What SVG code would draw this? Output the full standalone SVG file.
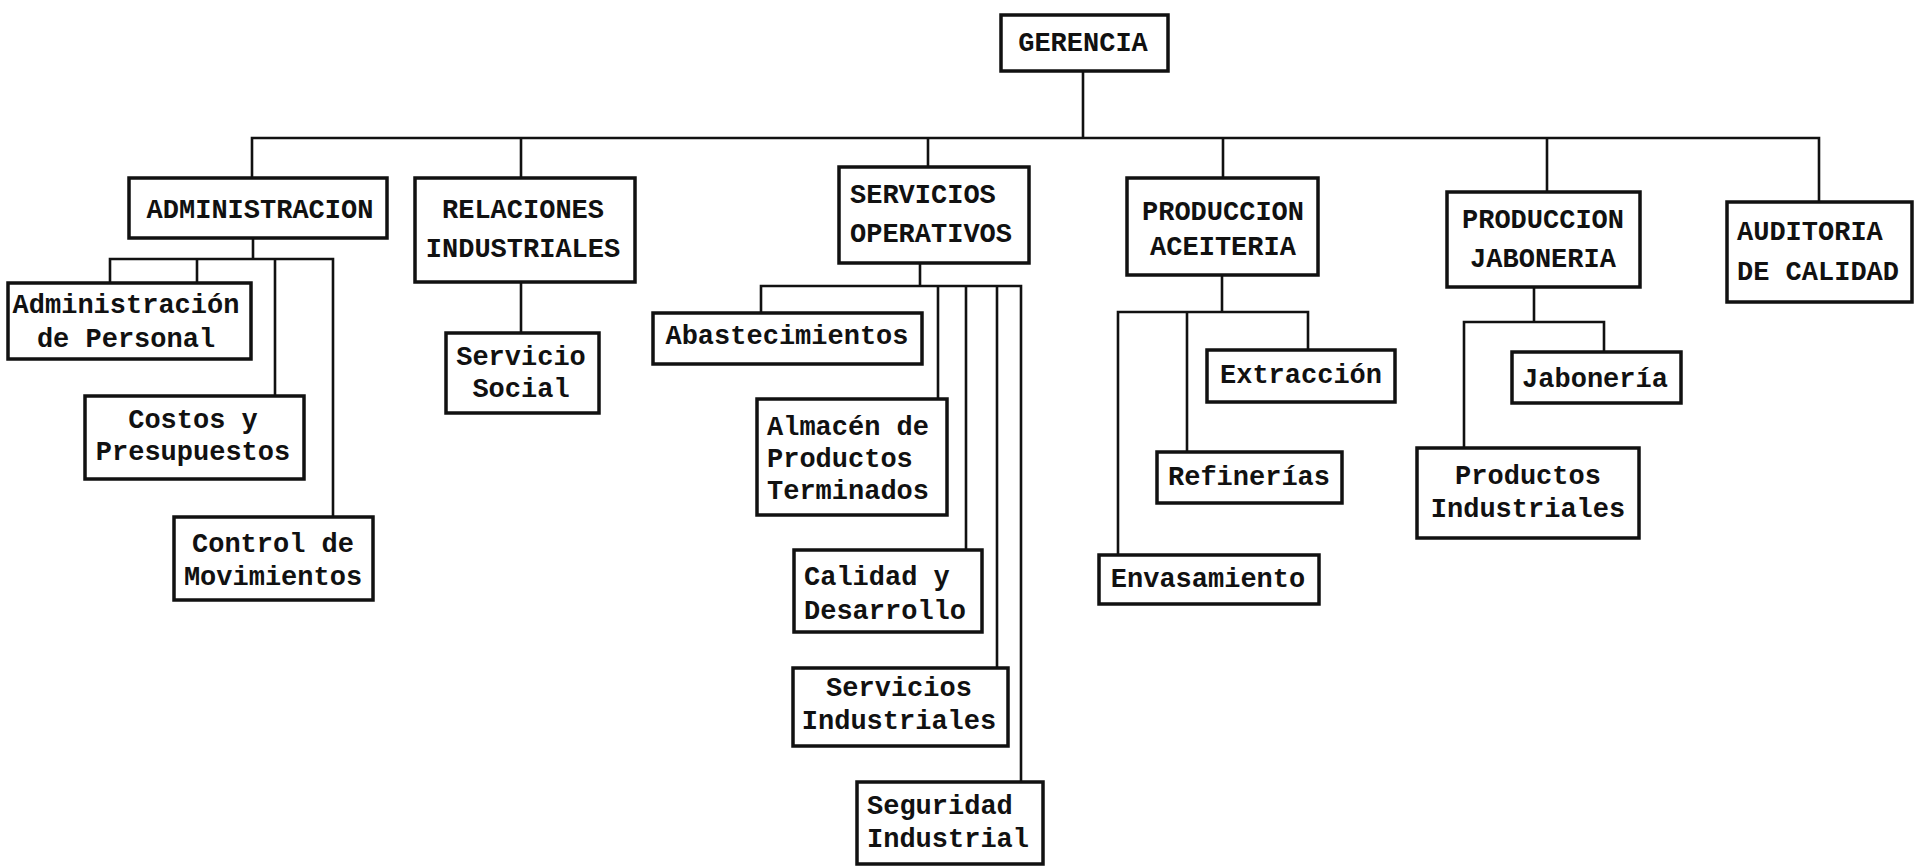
<svg xmlns="http://www.w3.org/2000/svg" width="1914" height="867" viewBox="0 0 1914 867">
<style>
.box{fill:#fff;stroke:#111;stroke-width:3.5}
.ln{fill:none;stroke:#111;stroke-width:2.6;stroke-linecap:square}
text{font-family:"Liberation Mono","DejaVu Sans Mono",monospace;font-weight:bold;font-size:27px;fill:#111}
.c{text-anchor:middle}
.s{text-anchor:start}
</style>
<rect width="1914" height="867" fill="#fff"/>
<g id="connectors">
<path class="ln" d="M1083 71V138M252 138H1819M252 138V178M521 138V178M928 138V167M1223 138V178M1547 138V192M1819 138V202"/>
<path class="ln" d="M253 238V259M110 259H333M110 259V283M197 259V283M275 259V396M333 259V517"/>
<path class="ln" d="M521 282V333"/>
<path class="ln" d="M920 263V286M761 286H1021M761 286V313M938 286V399M966 286V550M997 286V668M1021 286V782"/>
<path class="ln" d="M1222 275V312M1118 312H1308M1118 312V555M1187 312V452M1308 312V350"/>
<path class="ln" d="M1534 287V322M1464 322H1604M1464 322V448M1604 322V352"/>
</g>
<g id="gerencia"><rect class="box" x="1001" y="15" width="167" height="56"/><text class="c" x="1083" y="51">GERENCIA</text></g>
<g id="administracion"><rect class="box" x="129" y="178" width="258" height="60"/><text class="c" x="260" y="218">ADMINISTRACION</text></g>
<g id="relaciones"><rect class="box" x="415" y="178" width="220" height="104"/><text class="c" x="523" y="218">RELACIONES</text><text class="c" x="523" y="257">INDUSTRIALES</text></g>
<g id="servicios"><rect class="box" x="839" y="167" width="190" height="96"/><text class="s" x="850" y="203">SERVICIOS</text><text class="s" x="850" y="242">OPERATIVOS</text></g>
<g id="aceiteria"><rect class="box" x="1127" y="178" width="191" height="97"/><text class="c" x="1223" y="220">PRODUCCION</text><text class="c" x="1223" y="255">ACEITERIA</text></g>
<g id="jaboneria"><rect class="box" x="1447" y="192" width="193" height="95"/><text class="c" x="1543" y="228">PRODUCCION</text><text class="c" x="1543" y="267">JABONERIA</text></g>
<g id="auditoria"><rect class="box" x="1727" y="202" width="185" height="100"/><text class="s" x="1737" y="240">AUDITORIA</text><text class="s" x="1737" y="280">DE CALIDAD</text></g>
<g id="adm-personal"><rect class="box" x="8" y="283" width="243" height="76"/><text class="c" x="126" y="313">Administración</text><text class="c" x="126" y="347">de Personal</text></g>
<g id="costos"><rect class="box" x="85" y="396" width="219" height="83"/><text class="c" x="193" y="428">Costos y</text><text class="c" x="193" y="460">Presupuestos</text></g>
<g id="control"><rect class="box" x="174" y="517" width="199" height="83"/><text class="c" x="273" y="552">Control de</text><text class="c" x="273" y="585">Movimientos</text></g>
<g id="servicio-social"><rect class="box" x="446" y="333" width="153" height="80"/><text class="c" x="521" y="365">Servicio</text><text class="c" x="521" y="397">Social</text></g>
<g id="abastecimientos"><rect class="box" x="653" y="313" width="269" height="51"/><text class="c" x="787" y="344">Abastecimientos</text></g>
<g id="almacen"><rect class="box" x="757" y="399" width="190" height="116"/><text class="s" x="767" y="435">Almacén de</text><text class="s" x="767" y="467">Productos</text><text class="s" x="767" y="499">Terminados</text></g>
<g id="calidad"><rect class="box" x="794" y="550" width="188" height="82"/><text class="s" x="804" y="585">Calidad y</text><text class="s" x="804" y="619">Desarrollo</text></g>
<g id="servicios-industriales"><rect class="box" x="793" y="668" width="215" height="78"/><text class="c" x="899" y="696">Servicios</text><text class="c" x="899" y="729">Industriales</text></g>
<g id="seguridad"><rect class="box" x="857" y="782" width="186" height="82"/><text class="s" x="867" y="814">Seguridad</text><text class="s" x="867" y="847">Industrial</text></g>
<g id="extraccion"><rect class="box" x="1207" y="350" width="188" height="52"/><text class="c" x="1301" y="383">Extracción</text></g>
<g id="refinerias"><rect class="box" x="1157" y="452" width="185" height="51"/><text class="c" x="1249" y="485">Refinerías</text></g>
<g id="envasamiento"><rect class="box" x="1099" y="555" width="220" height="49"/><text class="c" x="1208" y="587">Envasamiento</text></g>
<g id="jaboneria-sub"><rect class="box" x="1512" y="352" width="169" height="51"/><text class="c" x="1595" y="387">Jabonería</text></g>
<g id="productos-industriales"><rect class="box" x="1417" y="448" width="222" height="90"/><text class="c" x="1528" y="484">Productos</text><text class="c" x="1528" y="517">Industriales</text></g>
</svg>
